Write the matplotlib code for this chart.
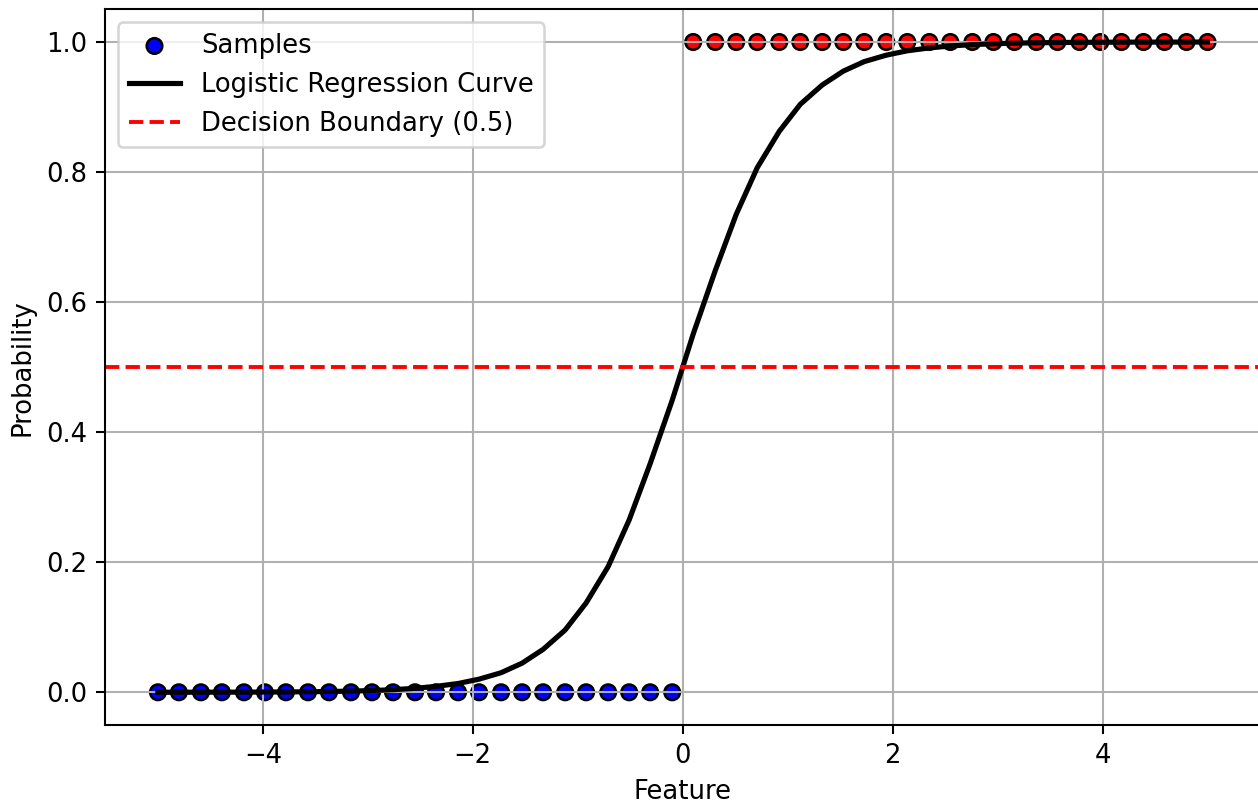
import matplotlib
matplotlib.use("Agg")
import matplotlib.pyplot as plt

# feature values of the samples (25 negatives, 25 positives)
feature = [-5.0, -4.8, -4.59, -4.39, -4.18, -3.98, -3.78, -3.57, -3.37, -3.16,
           -2.96, -2.76, -2.55, -2.35, -2.14, -1.94, -1.73, -1.53, -1.33, -1.12,
           -0.92, -0.71, -0.51, -0.31, -0.1,
           0.1, 0.31, 0.51, 0.71, 0.92, 1.12, 1.33, 1.53, 1.73, 1.94,
           2.14, 2.35, 2.55, 2.76, 2.96, 3.16, 3.37, 3.57, 3.78, 3.98,
           4.18, 4.39, 4.59, 4.8, 5.0]
labels = [0] * 25 + [1] * 25

# fitted probability at each feature value
prob = [0.0, 0.0001, 0.0001, 0.0002, 0.0002, 0.0004, 0.0005, 0.0008, 0.0012, 0.0018,
        0.0027, 0.004, 0.0061, 0.0091, 0.0135, 0.0202, 0.0301, 0.0448, 0.066, 0.0958,
        0.1374, 0.1933, 0.265, 0.3516, 0.4491,
        0.5509, 0.6484, 0.735, 0.8067, 0.8626, 0.9042, 0.934, 0.9552, 0.9699, 0.9798,
        0.9865, 0.9909, 0.9939, 0.996, 0.9973, 0.9982, 0.9988, 0.9992, 0.9995, 0.9996,
        0.9998, 0.9998, 0.9999, 0.9999, 1.0]

threshold = 0.5

DPI = 186
fig = plt.figure(figsize=(1258 / DPI, 805 / DPI), dpi=DPI)
ax = fig.add_axes([105.4 / 1258, (805 - 724.8) / 805,
                   (1260 - 105.4) / 1258, (724.8 - 9.5) / 805])

colors = ['blue' if l == 0 else 'red' for l in labels]
ax.scatter(feature, labels, c=colors, edgecolors='k', label='Samples')
ax.plot(feature, prob, color='black', linewidth=2, label='Logistic Regression Curve')
ax.axhline(threshold, color='red', linestyle='--', label='Decision Boundary (0.5)')

ax.set_xlabel("Feature")
ax.set_ylabel("Probability")
ax.legend(loc='upper left')
ax.grid(True)

fig.savefig("out.png", dpi=DPI)
